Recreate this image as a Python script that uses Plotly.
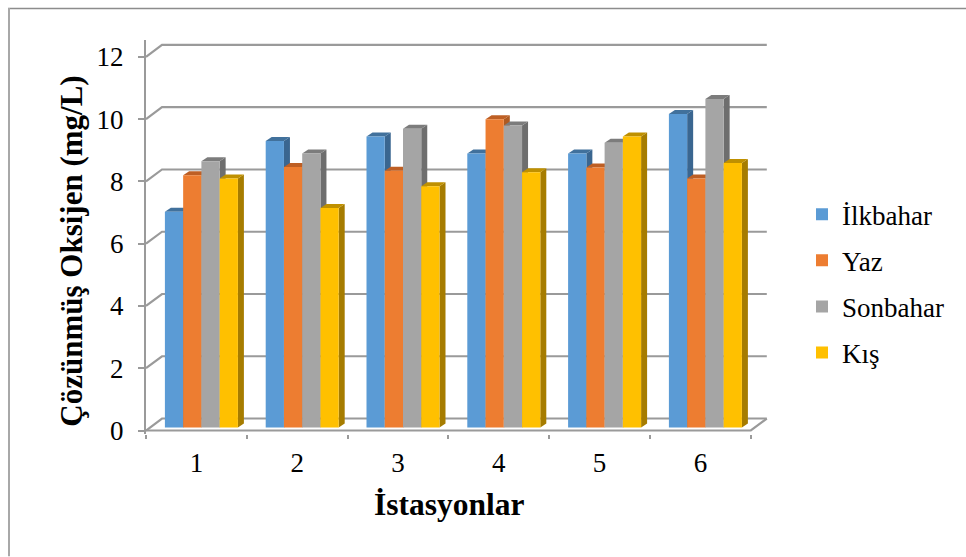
import plotly.graph_objects as go

# Dissolved oxygen by station and season
stations = [1, 2, 3, 4, 5, 6]
ilkbahar = [6.93, 9.2, 9.35, 8.8, 8.8, 10.07]
yaz = [8.1, 8.37, 8.25, 9.9, 8.35, 8.0]
sonbahar = [8.55, 8.8, 9.6, 9.7, 9.15, 10.55]
kis = [8.0, 7.05, 7.75, 8.2, 9.35, 8.5]
y_ticks = [0, 2, 4, 6, 8, 10, 12]

series = [
    ("İlkbahar", ilkbahar, "#5B9BD5", "#41719C", "#3A6690"),
    ("Yaz", yaz, "#ED7D31", "#BE5F24", "#AE5A21"),
    ("Sonbahar", sonbahar, "#A5A5A5", "#7C7C7C", "#6E6E6E"),
    ("Kış", kis, "#FFC000", "#BF9000", "#A67C00"),
]

W, H = 966, 557
LEFT, RIGHT, BOTTOM, TOP = 146, 770, 434.5, 40
PX_X = 100.8          # pixels per station
PX_Y = 31.17          # pixels per mg/L
GRID = "#9A9A9A"
FONT = "Liberation Serif"

def dx(px):
    return px / PX_X

def dy(px):
    return px / PX_Y

x_min, x_max = 0.5, 0.5 + (RIGHT - LEFT) / PX_X
y_min, y_max = -dy(3.5), (431 - TOP) / PX_Y

WALL_X, WALL_Y = dx(16), dy(12)     # depth of the chart box
BAR_X, BAR_Y = dx(6), dy(4)         # depth of one bar
SHIFT_X, SHIFT_Y = dx(5), dy(3)     # bars stand inside the floor
GROUP = 73 / PX_X
BAR_W = GROUP / 4

fig = go.Figure()

def line(xs, ys):
    fig.add_trace(go.Scatter(x=xs, y=ys, mode="lines", showlegend=False, hoverinfo="skip",
                             line=dict(color=GRID, width=2.2)))

# Back wall gridlines and their returns along the side wall
for v in y_ticks:
    line([0.5, 0.5 + WALL_X, 6.5 + WALL_X], [v, v + WALL_Y, v + WALL_Y])
# Front edge of the floor and its right return
line([0.5, 6.5, 6.5 + WALL_X], [0, 0, WALL_Y])

# Top and side faces, series by series, behind the front faces
for k, (name, values, front, top, side) in enumerate(series):
    for s, v in zip(stations, values):
        x0 = s - GROUP / 2 + k * BAR_W + SHIFT_X
        x1 = x0 + BAR_W
        b = SHIFT_Y
        t = v + SHIFT_Y
        fig.add_trace(go.Scatter(
            x=[x1, x1 + BAR_X, x1 + BAR_X, x1, x1], y=[b, b + BAR_Y, t + BAR_Y, t, b],
            fill="toself", fillcolor=side, mode="lines", line=dict(width=0),
            showlegend=False, hoverinfo="skip"))
        fig.add_trace(go.Scatter(
            x=[x0, x0 + BAR_X, x1 + BAR_X, x1, x0], y=[t, t + BAR_Y, t + BAR_Y, t, t],
            fill="toself", fillcolor=top, mode="lines", line=dict(width=0),
            showlegend=False, hoverinfo="skip"))

# Front faces on an overlay pair of axes shifted by the bar inset
for name, values, front, top, side in series:
    fig.add_trace(go.Bar(x=stations, y=values, name=name, marker=dict(color=front, line=dict(width=0)),
                         xaxis="x2", yaxis="y2", legendgroup=name))

PLOT_W = RIGHT - LEFT
PLOT_H = BOTTOM - TOP

fig.update_layout(
    width=W, height=H, autosize=False,
    margin=dict(l=LEFT, r=W - RIGHT, t=TOP, b=H - BOTTOM),
    paper_bgcolor="white", plot_bgcolor="rgba(0,0,0,0)",
    barmode="group", bargap=1 - GROUP, bargroupgap=0,
    font=dict(family=FONT, color="black"),
    xaxis=dict(range=[x_min, x_max], tickmode="array", tickvals=stations, ticktext=[str(s) for s in stations],
               showgrid=False, zeroline=False, showline=False, ticks="", ticklen=0,
               tickfont=dict(size=27), ticklabelstandoff=10,
               minor=dict(tickmode="array", tickvals=[0.5, 1.5, 2.5, 3.5, 4.5, 5.5, 6.5], ticks="outside",
                          ticklen=4, tickwidth=2, tickcolor=GRID, showgrid=False)),
    yaxis=dict(range=[y_min, y_max], tickmode="array", tickvals=y_ticks, showgrid=False, zeroline=False,
               showline=True, linecolor=GRID, linewidth=2.2, ticks="outside", ticklen=6, tickwidth=2,
               tickcolor=GRID, tickfont=dict(size=27), ticklabelstandoff=9),
    xaxis2=dict(overlaying="x", range=[x_min - SHIFT_X, x_max - SHIFT_X], visible=False),
    yaxis2=dict(overlaying="y", range=[y_min - SHIFT_Y, y_max - SHIFT_Y], visible=False),
    legend=dict(x=(802 - LEFT) / PLOT_W, xanchor="left", y=(BOTTOM - 284) / PLOT_H, yanchor="middle",
                font=dict(size=27), tracegroupgap=8, traceorder="grouped", bgcolor="rgba(0,0,0,0)"),
)

# Axis titles placed by pixel position
fig.add_annotation(text="<b>İstasyonlar</b>", xref="paper", yref="paper", showarrow=False,
                   xanchor="center", yanchor="middle",
                   x=(449.5 - LEFT) / PLOT_W, y=(BOTTOM - 505) / PLOT_H, font=dict(size=31.5))
fig.add_annotation(text="<b>Çözünmüş Oksijen (mg/L)</b>", xref="paper", yref="paper", showarrow=False,
                   textangle=-90, xanchor="center", yanchor="middle",
                   x=(72 - LEFT) / PLOT_W, y=(BOTTOM - 252) / PLOT_H, font=dict(size=31))

# Top and left edges of the chart frame
fig.add_shape(type="line", xref="paper", yref="paper", layer="below",
              x0=(8 - LEFT) / PLOT_W, x1=(966 - LEFT) / PLOT_W,
              y0=(BOTTOM - 8.5) / PLOT_H, y1=(BOTTOM - 8.5) / PLOT_H,
              line=dict(color="#8C8C8C", width=1.5))
fig.add_shape(type="line", xref="paper", yref="paper", layer="below",
              x0=(9 - LEFT) / PLOT_W, x1=(9 - LEFT) / PLOT_W,
              y0=(BOTTOM - 8) / PLOT_H, y1=(BOTTOM - 557) / PLOT_H,
              line=dict(color="#A8A8A8", width=2))

fig.write_html("out.html")
